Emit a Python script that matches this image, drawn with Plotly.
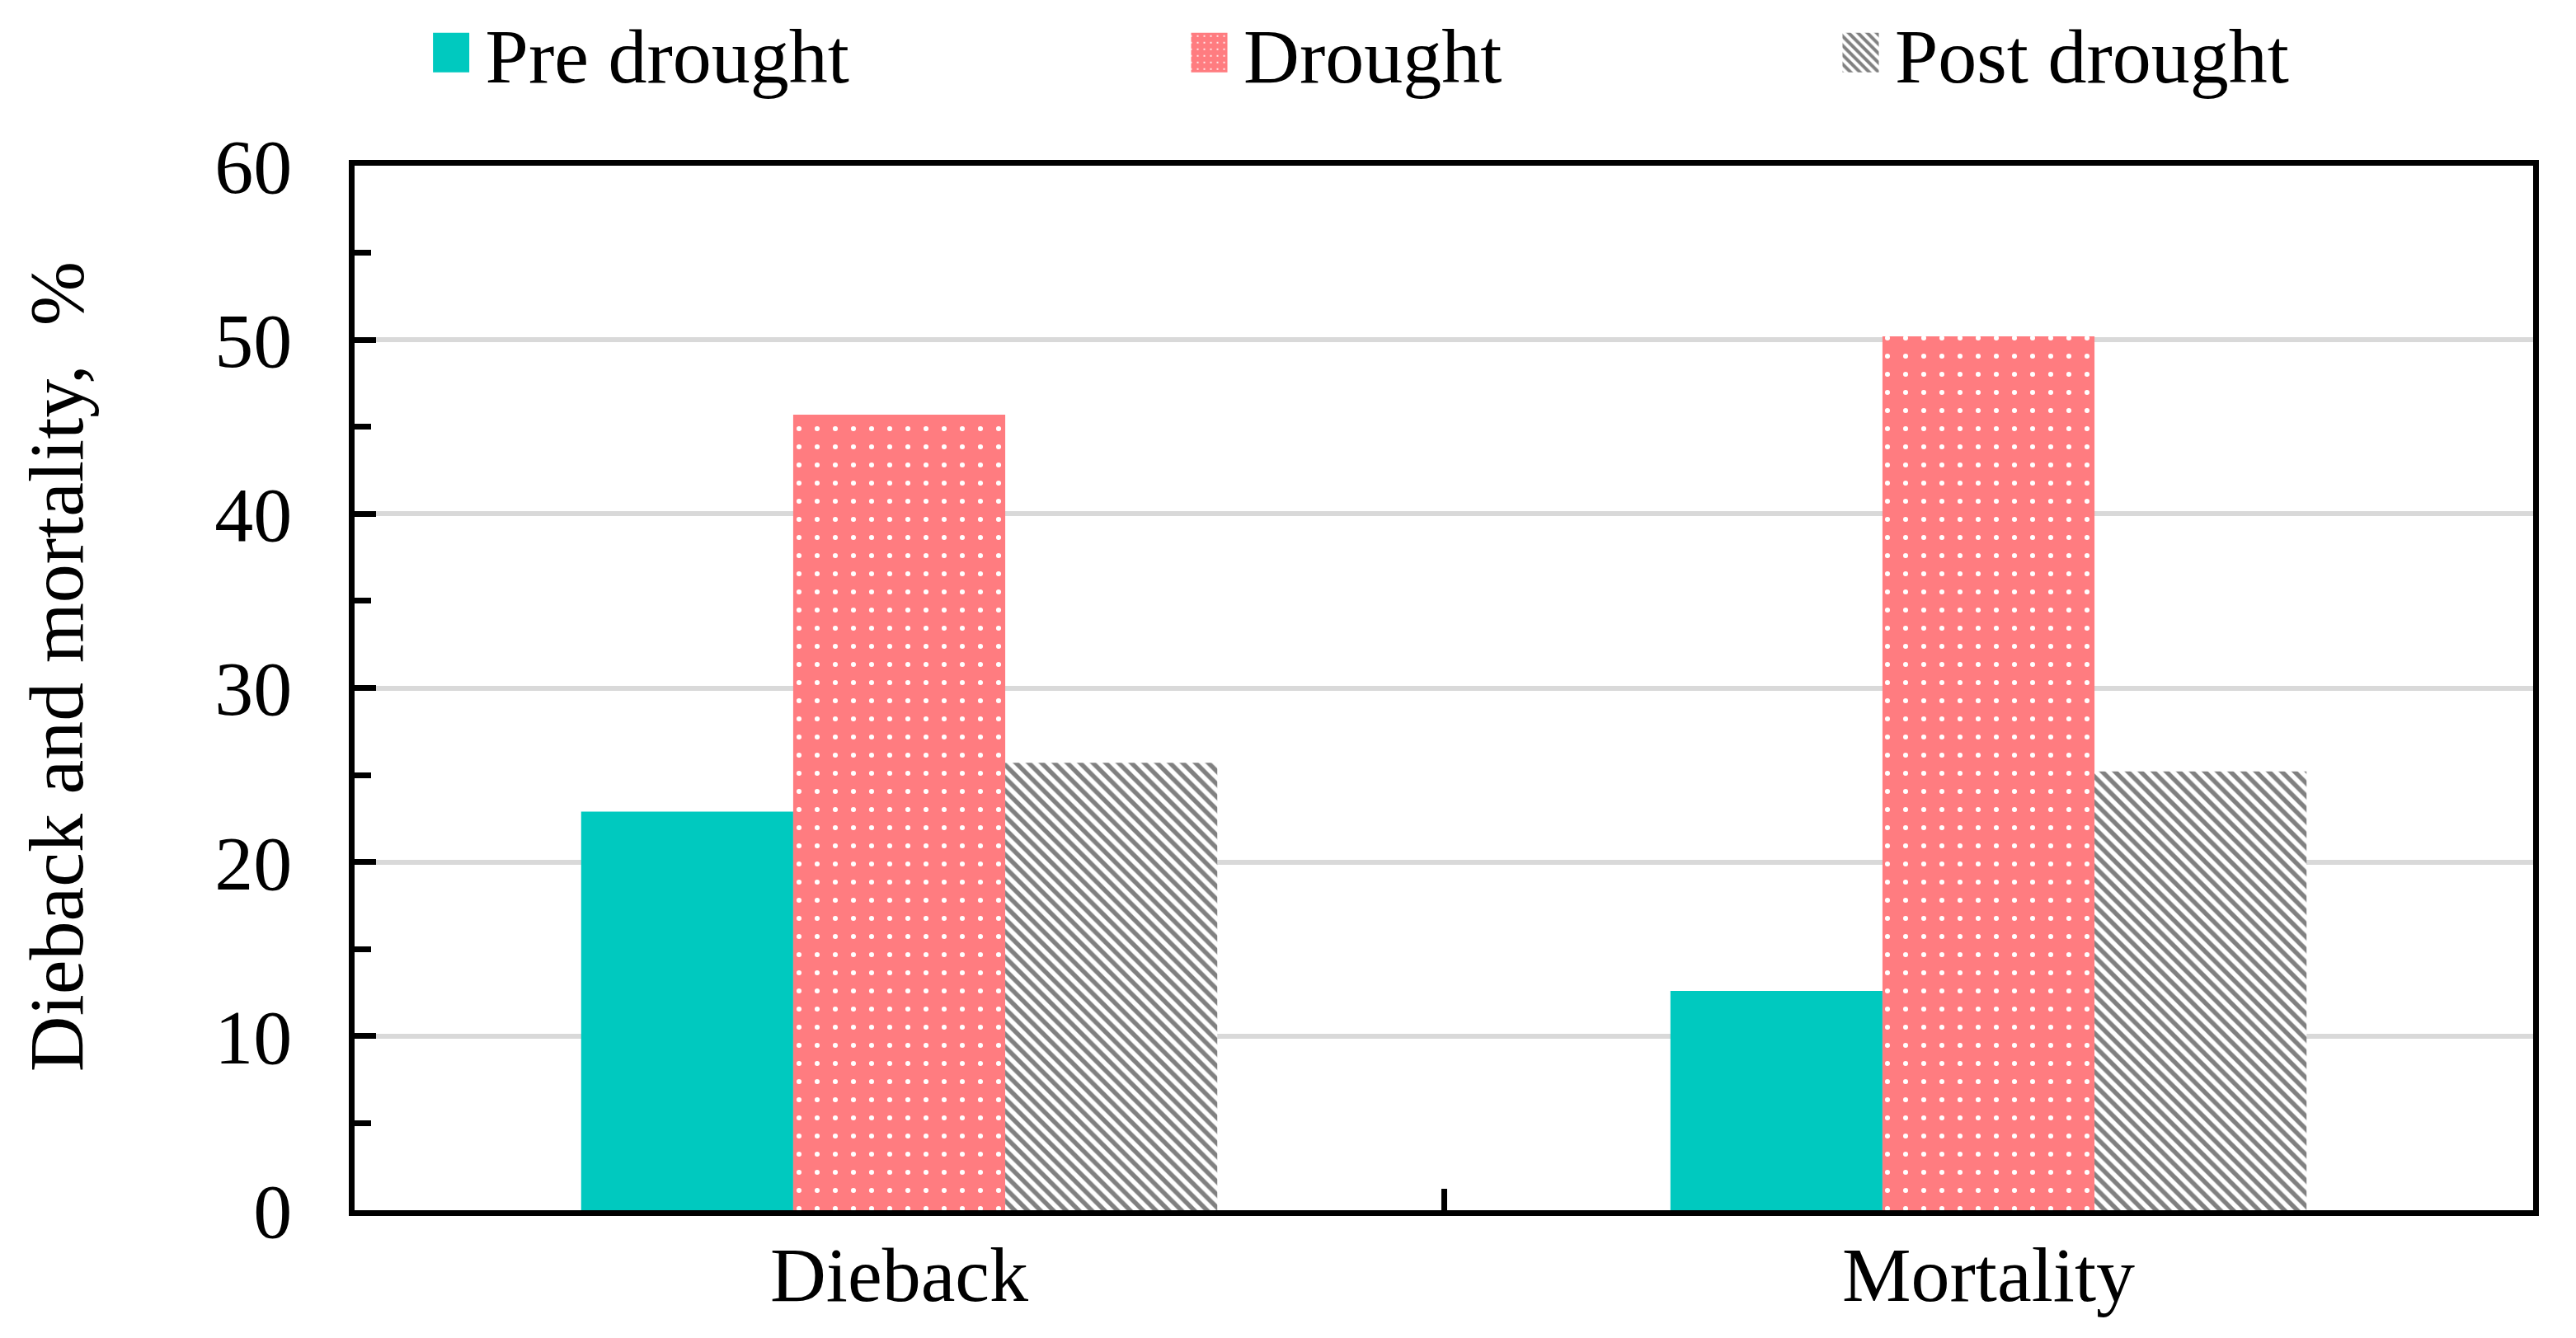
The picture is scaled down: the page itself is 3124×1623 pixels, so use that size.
import plotly.graph_objects as go

categories = ["Dieback", "Mortality"]
pre_drought = [22.9, 12.6]
drought = [45.7, 50.2]
post_drought = [25.7, 25.2]
series_names = ["Pre drought", "Drought", "Post drought"]
y_ticks = [0, 10, 20, 30, 40, 50, 60]
y_title = "Dieback and mortality,\u00a0\u00a0%"

FONT = "Times New Roman, Liberation Serif, serif"
FS = 94
TEAL = "#00C9BF"
PINK = "#FF7C80"
GREY = "#808080"
NB = "\u00a0"

fig = go.Figure()
fig.add_trace(go.Bar(
    x=categories, y=pre_drought, name=NB + series_names[0],
    marker=dict(color=TEAL, line=dict(width=0)), legend="legend",
    showlegend=True))
fig.add_trace(go.Bar(
    x=categories, y=drought, name=NB + series_names[1],
    marker=dict(color=PINK, line=dict(width=0),
                pattern=dict(shape=".", fgcolor="white", bgcolor=PINK,
                             size=22, solidity=0.06, fillmode="replace")),
    legend="legend2", showlegend=True))
fig.add_trace(go.Bar(
    x=categories, y=post_drought, name=NB + series_names[2],
    marker=dict(color=GREY, line=dict(width=0),
                pattern=dict(shape="\\", fgcolor=GREY, bgcolor="white",
                             size=11, solidity=0.5, fillmode="replace")),
    legend="legend3", showlegend=True))

leg_common = dict(orientation="h", yanchor="middle", xanchor="left",
                  font=dict(family=FONT, size=FS, color="black"),
                  bgcolor="rgba(0,0,0,0)", borderwidth=0)

fig.update_layout(
    width=3124, height=1623,
    margin=dict(l=422, r=60, t=193, b=163, autoexpand=False),
    showlegend=True,
    paper_bgcolor="white", plot_bgcolor="white",
    font=dict(family=FONT, size=FS, color="black"),
    barmode="group", bargap=0.416, bargroupgap=0,
    legend=dict(x=0.036, y=1.108, **leg_common),
    legend2=dict(x=0.384, y=1.108, **leg_common),
    legend3=dict(x=0.683, y=1.108, **leg_common),
    xaxis=dict(
        type="category", range=[-0.5, 1.5],
        showline=True, linecolor="black", linewidth=7, mirror=True,
        ticks="inside", tickson="boundaries", ticklen=26, tickwidth=7,
        tickcolor="black", showgrid=False,
        tickfont=dict(family=FONT, size=FS, color="black"),
        ticklabelstandoff=-10,
    ),
    yaxis=dict(
        range=[0, 60], tickvals=y_ticks, ticktext=[str(v) for v in y_ticks],
        showline=True, linecolor="black", linewidth=7, mirror=True,
        ticks="inside", ticklen=26, tickwidth=7, tickcolor="black",
        showgrid=True, gridcolor="#D9D9D9", gridwidth=6, zeroline=False,
        minor=dict(dtick=5, ticks="inside", ticklen=20, tickwidth=7,
                   tickcolor="black", showgrid=False),
        tickfont=dict(family=FONT, size=FS, color="black"),
        ticklabelstandoff=50,
    ),
    annotations=[dict(
        text=y_title, textangle=-90, showarrow=False,
        xref="paper", yref="paper", x=-0.137, y=0.52,
        xanchor="center", yanchor="middle",
        font=dict(family=FONT, size=FS, color="black"),
    )],
)

js = """
var gd = document.getElementById('{plot_id}');
function fixLegend(){
  gd.querySelectorAll('.legendpoints path').forEach(function(p){
    p.setAttribute('d','M24,24H-24V-24H24Z');
  });
}
[0, 50, 200, 500, 1000, 2000].forEach(function(t){ setTimeout(fixLegend, t); });
if (gd.on) { gd.on('plotly_afterplot', fixLegend); }
"""

fig.write_html("out.html", post_script=js)
